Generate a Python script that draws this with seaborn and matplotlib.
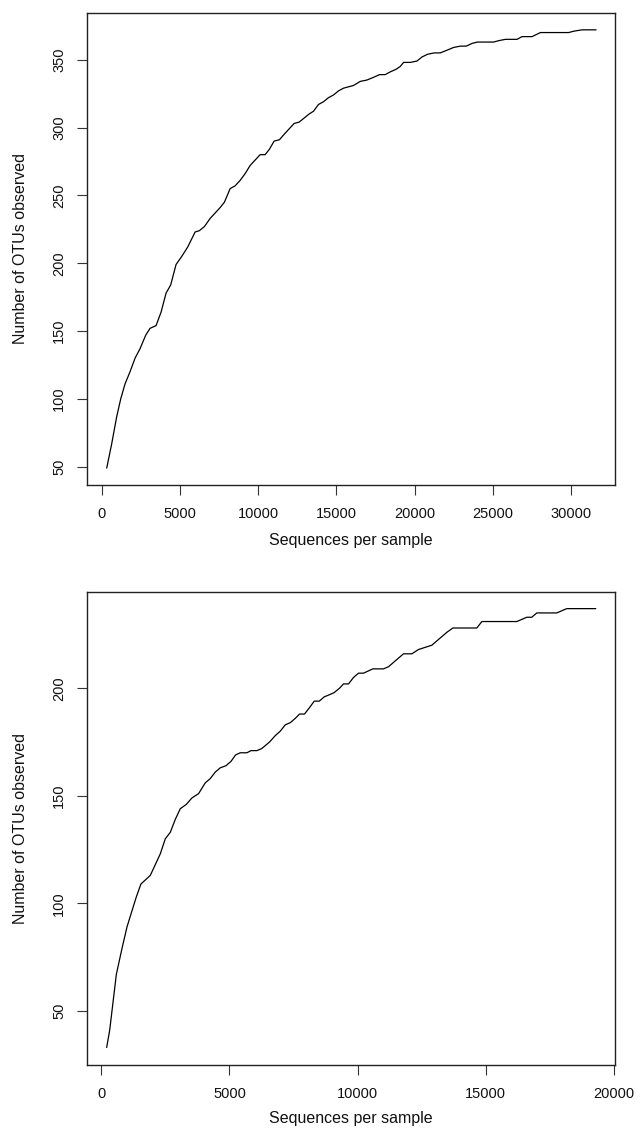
import matplotlib
matplotlib.use("Agg")
import matplotlib.pyplot as plt
import seaborn as sns
import pandas as pd

# rarefaction curve, sample 1
seqs_1 = [320, 640, 960, 1215, 1490, 1810, 2130, 2450, 2815, 3090, 3475, 3795, 4115,
          4410, 4750, 5115, 5500, 5970, 6245, 6565, 6930, 7250, 7570, 7845, 8210, 8525,
          8845, 9165, 9485, 9805, 10125, 10445, 10720, 11020, 11360, 11660, 11980, 12300,
          12620, 12940, 13260, 13535, 13855, 14175, 14495, 14815, 15135, 15455, 15775,
          16095, 16525, 16950, 17375, 17760, 18120, 18440, 18825, 19080, 19295, 19720,
          20150, 20470, 20830, 21255, 21640, 22070, 22490, 22920, 23300, 23670, 24025,
          24630, 25050, 25370, 25800, 26545, 26865, 27505, 28040, 28890, 29850, 30170,
          30700, 31600]
otus_1 = [49, 67, 87, 100, 111, 120, 130, 137, 147, 152, 154, 164, 178,
          184, 199, 205, 212, 223, 224, 227, 233, 237, 241, 245, 255, 257,
          261, 266, 272, 276, 280, 280, 284, 290, 291, 295, 299, 303,
          304, 307, 310, 312, 317, 319, 322, 324, 327, 329, 330,
          331, 334, 335, 337, 339, 339, 341, 343, 345, 348, 348,
          349, 352, 354, 355, 355, 357, 359, 360, 360, 362, 363,
          363, 363, 364, 365, 365, 367, 367, 370, 370, 370, 371,
          372, 372]

# rarefaction curve, sample 2 (bottom panel)
seqs_2 = [207, 325, 585, 805, 1000, 1155, 1365, 1545, 1910, 2105, 2300, 2495, 2690,
          2885, 3080, 3315, 3535, 3795, 4055, 4250, 4445, 4640, 4865, 5060, 5240, 5420,
          5680, 5840, 6070, 6265, 6565, 6790, 6980, 7180, 7375, 7570, 7735, 7930, 8125,
          8310, 8505, 8700, 8905, 9090, 9295, 9452, 9647, 9842, 10037, 10232, 10598,
          11013, 11208, 11403, 11598, 11793, 12120, 12378, 12639, 12900, 13095, 13290,
          13486, 13720, 14071, 14266, 14656, 14851, 15241, 15436, 16216, 16411, 16606,
          16801, 16996, 17581, 17776, 17971, 18166, 19298]
otus_2 = [33, 41, 67, 79, 89, 95, 103, 109, 113, 118, 123, 130, 133,
          139, 144, 146, 149, 151, 156, 158, 161, 163, 164, 166, 169, 170,
          170, 171, 171, 172, 175, 178, 180, 183, 184, 186, 188, 188, 191,
          194, 194, 196, 197, 198, 200, 202, 202, 205, 207, 207, 209,
          209, 210, 212, 214, 216, 216, 218, 219, 220, 222, 224,
          226, 228, 228, 228, 228, 231, 231, 231, 231, 232, 233,
          233, 235, 235, 235, 236, 237, 237]

sns.set_style("ticks")
plt.rcParams["font.family"] = ["Liberation Sans", "DejaVu Sans"]

fig = plt.figure(figsize=(6.44, 11.28), dpi=100)

panels = [
    (seqs_1, otus_1, [0.1351, 0.5700, 0.8204, 0.4187], (-940, 32830), (36.5, 384.6),
     range(0, 30001, 5000), range(50, 351, 50), -0.102),
    (seqs_2, otus_2, [0.1351, 0.0559, 0.8204, 0.4196], (-560, 20062), (24.9, 244.9),
     range(0, 20001, 5000), range(50, 201, 50), -0.098),
]

for xs, ys, rect, xlim, ylim, xt, yt, xlab_y in panels:
    ax = fig.add_axes(rect)
    df = pd.DataFrame({"seqs": xs, "otus": ys})
    sns.lineplot(data=df, x="seqs", y="otus", ax=ax, color="black", linewidth=0.9,
                 estimator=None, sort=False)
    ax.set_xlim(*xlim)
    ax.set_ylim(*ylim)
    ax.set_xticks(list(xt))
    ax.set_yticks(list(yt))
    for s in ax.spines.values():
        s.set_visible(True)
        s.set_linewidth(1.0)
        s.set_color("#222222")
    ax.tick_params(axis="both", length=7, width=0.8, color="#333333",
                   labelsize=10.5, labelcolor="#111111")
    ax.tick_params(axis="x", pad=9)
    ax.tick_params(axis="y", pad=8)
    for lab in ax.get_yticklabels():
        lab.set_rotation(90)
        lab.set_va("center")
    ax.set_xlabel("Sequences per sample", fontsize=11.5, color="#111111")
    ax.set_ylabel("Number of OTUs observed", fontsize=11.5, color="#111111")
    ax.xaxis.set_label_coords(0.5, xlab_y)
    ax.yaxis.set_label_coords(-0.112, 0.5)

fig.savefig("out.png", dpi=100)
